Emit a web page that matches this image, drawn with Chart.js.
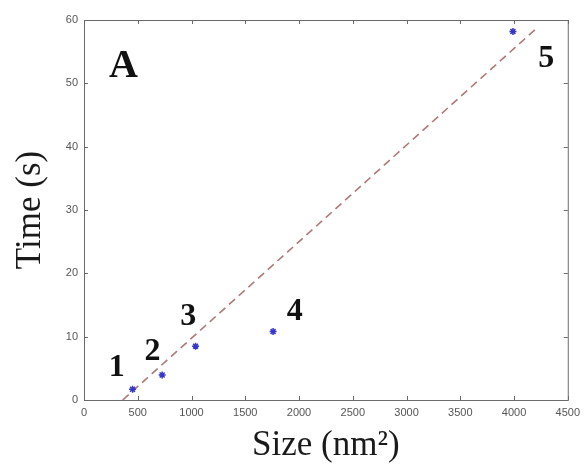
<!DOCTYPE html>
<html>
<head>
<meta charset="utf-8">
<script src="https://cdn.jsdelivr.net/npm/chart.js@4/dist/chart.umd.min.js"></script>
<style>
  html, body { margin: 0; padding: 0; background: #ffffff; }
  #wrap { width: 586px; height: 465px; position: relative; }
</style>
</head>
<body>
<div id="wrap"><canvas id="c" width="586" height="465"></canvas></div>
<script>
// ---- data ----
const sizes = [452, 727, 1038, 1759, 3990];          // nm^2
const times = [1.7, 3.95, 8.5, 10.8, 58.2];           // s
const fitX = [360, 4210];                             // dashed trend line ends
const fitY = [0, 58.7];
const xTicks = [0, 500, 1000, 1500, 2000, 2500, 3000, 3500, 4000, 4500];
const yTicks = [0, 10, 20, 30, 40, 50, 60];
const labelTexts = ['A', '1', '2', '3', '4', '5'];
const labelX = [367, 304, 637, 969, 1961, 4300];
const labelY = [51.0, 3.8, 6.3, 11.8, 12.6, 52.6];

const boxAndTicks = {
  id: 'boxAndTicks',
  afterDatasetsDraw(chart) {
    const {ctx, chartArea: a, scales: {x, y}} = chart;
    ctx.save();
    ctx.strokeStyle = '#6a6a6a';
    ctx.lineWidth = 1;
    ctx.strokeRect(a.left + 0.5, a.top + 0.5, a.right - a.left, a.bottom - a.top);
    const L = 4;
    ctx.beginPath();
    xTicks.forEach(v => {
      const px = Math.round(x.getPixelForValue(v)) + 0.5;
      ctx.moveTo(px, a.bottom); ctx.lineTo(px, a.bottom - L);
      ctx.moveTo(px, a.top); ctx.lineTo(px, a.top + L);
    });
    yTicks.forEach(v => {
      const py = Math.round(y.getPixelForValue(v)) + 0.5;
      ctx.moveTo(a.left, py); ctx.lineTo(a.left + L, py);
      ctx.moveTo(a.right, py); ctx.lineTo(a.right - L, py);
    });
    ctx.stroke();
    ctx.restore();
  }
};

const textLabels = {
  id: 'textLabels',
  afterDraw(chart) {
    const {ctx, scales: {x, y}} = chart;
    ctx.save();
    ctx.fillStyle = '#111111';
    ctx.textAlign = 'center';
    ctx.textBaseline = 'alphabetic';
    labelTexts.forEach((t, i) => {
      const size = t === 'A' ? 40 : 32;
      ctx.font = 'bold ' + size + 'px "Liberation Serif", "Times New Roman", serif';
      ctx.fillText(t, x.getPixelForValue(labelX[i]), y.getPixelForValue(labelY[i]));
    });
    ctx.restore();
  }
};

new Chart(document.getElementById('c'), {
  type: 'scatter',
  data: {
    datasets: [
      {
        label: 'measured',
        data: sizes.map((s, i) => ({x: s, y: times[i]})),
        pointStyle: 'star',
        radius: 3.5,
        borderWidth: 1.5,
        borderColor: '#3535c8',
        backgroundColor: '#3535c8',
        showLine: false
      },
      {
        label: 'fit',
        data: fitX.map((s, i) => ({x: s, y: fitY[i]})),
        showLine: true,
        borderColor: '#b07878',
        borderWidth: 1.6,
        borderDash: [8, 5],
        pointRadius: 0,
        fill: false
      }
    ]
  },
  plugins: [boxAndTicks, textLabels],
  options: {
    responsive: false,
    animation: false,
    devicePixelRatio: 1,
    layout: { padding: { left: 10, right: 18, top: 20, bottom: 0 } },
    plugins: { legend: { display: false }, tooltip: { enabled: false } },
    scales: {
      x: {
        type: 'linear',
        min: 0, max: 4500,
        afterFit(s) { s.height = 65; },
        afterBuildTicks(s) { s.ticks = xTicks.map(v => ({value: v})); },
        grid: { display: false, drawTicks: false },
        border: { display: false },
        ticks: {
          color: '#555555',
          padding: 6,
          maxRotation: 0,
          autoSkip: false,
          callback: v => String(v),
          font: { family: '"Liberation Sans", Arial, sans-serif', size: 11 }
        },
        title: {
          display: true,
          text: 'Size (nm²)',
          color: '#1a1a1a',
          padding: { top: 0, bottom: 0 },
          font: { family: '"Liberation Serif", "Times New Roman", serif', size: 35, lineHeight: 1.1 }
        }
      },
      y: {
        type: 'linear',
        min: 0, max: 60,
        afterFit(s) { s.width = 74; },
        afterBuildTicks(s) { s.ticks = yTicks.map(v => ({value: v})); },
        grid: { display: false, drawTicks: false },
        border: { display: false },
        ticks: {
          color: '#555555',
          padding: 6,
          autoSkip: false,
          callback: v => String(v),
          font: { family: '"Liberation Sans", Arial, sans-serif', size: 11 }
        },
        title: {
          display: true,
          text: 'Time (s)',
          color: '#1a1a1a',
          padding: { top: 0, bottom: 0 },
          font: { family: '"Liberation Serif", "Times New Roman", serif', size: 35, lineHeight: 1.2 }
        }
      }
    }
  }
});
</script>
</body>
</html>
